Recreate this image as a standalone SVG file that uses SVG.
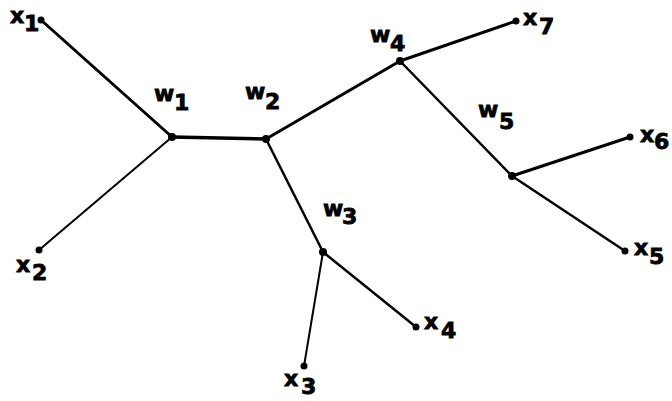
<svg xmlns="http://www.w3.org/2000/svg" width="672" height="401" viewBox="0 0 672 401">
<style>
.lbl{font-family:"DejaVu Sans",Verdana,sans-serif;font-weight:bold;font-size:22px;fill:#000;stroke:#000;stroke-width:0.8}
.e{stroke:#000;stroke-linecap:round;fill:none}
.d{fill:#000}
</style>
<rect width="672" height="401" fill="#fff"/>
<g id="connectors">
<line class="e" x1="41" y1="20" x2="172" y2="137" stroke-width="3"/>
<line class="e" x1="39" y1="250" x2="172" y2="137" stroke-width="2"/>
<line class="e" x1="172" y1="137" x2="266" y2="139" stroke-width="3.5"/>
<line class="e" x1="266" y1="139" x2="400" y2="61" stroke-width="3"/>
<line class="e" x1="266" y1="139" x2="323" y2="252" stroke-width="2.5"/>
<line class="e" x1="323" y1="252" x2="304" y2="366" stroke-width="2"/>
<line class="e" x1="323" y1="252" x2="416" y2="327" stroke-width="2.5"/>
<line class="e" x1="400" y1="61" x2="516" y2="21" stroke-width="3"/>
<line class="e" x1="400" y1="61" x2="512" y2="176" stroke-width="2.5"/>
<line class="e" x1="512" y1="176" x2="630" y2="137" stroke-width="3"/>
<line class="e" x1="512" y1="176" x2="625" y2="251" stroke-width="2.5"/>
</g>
<g id="x1"><circle class="d" cx="41" cy="20" r="3.5"/><text class="lbl" x="10" y="23">x<tspan x="24" y="31">1</tspan></text></g>
<g id="x2"><circle class="d" cx="39" cy="250" r="3.5"/><text class="lbl" x="16" y="272">x<tspan x="32" y="280">2</tspan></text></g>
<g id="x3"><circle class="d" cx="304" cy="366" r="3.5"/><text class="lbl" x="284" y="386">x<tspan x="301" y="394">3</tspan></text></g>
<g id="x4"><circle class="d" cx="416" cy="327" r="3.5"/><text class="lbl" x="424" y="329">x<tspan x="441" y="338">4</tspan></text></g>
<g id="x5"><circle class="d" cx="625" cy="251" r="3.5"/><text class="lbl" x="634" y="255">x<tspan x="649" y="264">5</tspan></text></g>
<g id="x6"><circle class="d" cx="630" cy="137" r="3.5"/><text class="lbl" x="640" y="142">x<tspan x="654" y="149">6</tspan></text></g>
<g id="x7"><circle class="d" cx="516" cy="21" r="3.5"/><text class="lbl" x="523" y="25">x<tspan x="539" y="34">7</tspan></text></g>
<g id="w1"><circle class="d" cx="172" cy="137" r="4"/><text class="lbl" x="154" y="101">w<tspan x="174" y="110">1</tspan></text></g>
<g id="w2"><circle class="d" cx="266" cy="139" r="4"/><text class="lbl" x="245" y="99">w<tspan x="265" y="109">2</tspan></text></g>
<g id="w3"><circle class="d" cx="323" cy="252" r="4"/><text class="lbl" x="323" y="216">w<tspan x="342" y="224">3</tspan></text></g>
<g id="w4"><circle class="d" cx="400" cy="61" r="4"/><text class="lbl" x="370" y="42">w<tspan x="390" y="51">4</tspan></text></g>
<g id="w5"><circle class="d" cx="512" cy="176" r="4"/><text class="lbl" x="478" y="117">w<tspan x="499" y="129">5</tspan></text></g>
</svg>
